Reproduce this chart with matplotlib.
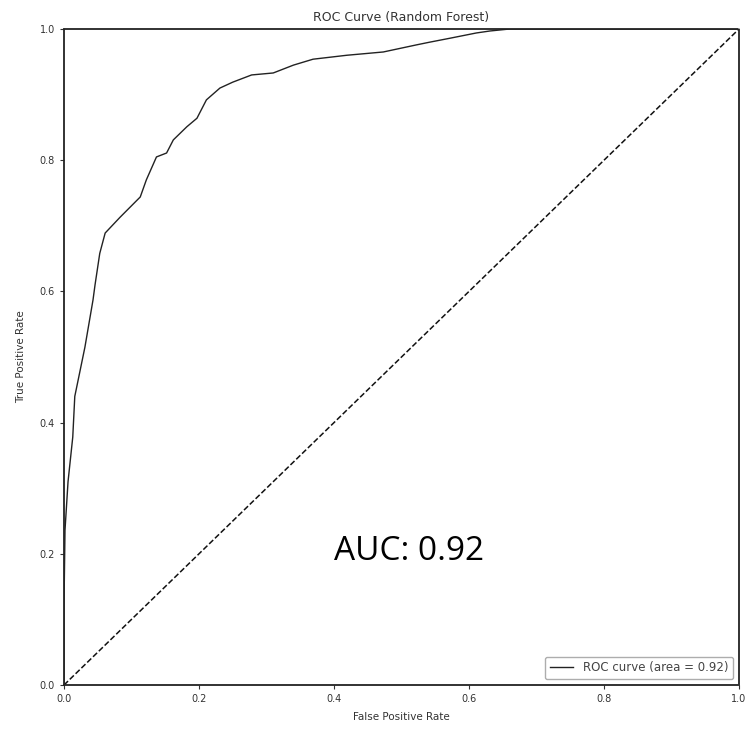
import matplotlib
matplotlib.use("Agg")
import matplotlib.pyplot as plt

# ROC curve points (false positive rate, true positive rate)
fpr = [0.0, 0.0, 0.0015, 0.006, 0.013, 0.016, 0.031, 0.043, 0.046, 0.053, 0.061,
       0.083, 0.113, 0.122, 0.137, 0.152, 0.162, 0.182, 0.197, 0.211, 0.231,
       0.250, 0.278, 0.310, 0.340, 0.369, 0.419, 0.473, 0.523, 0.542, 0.572,
       0.611, 0.631, 0.66, 1.0]
tpr = [0.0, 0.12, 0.236, 0.31, 0.378, 0.44, 0.515, 0.587, 0.61, 0.658, 0.689,
       0.713, 0.744, 0.770, 0.805, 0.811, 0.831, 0.851, 0.864, 0.892, 0.910,
       0.919, 0.930, 0.933, 0.945, 0.954, 0.960, 0.965, 0.976, 0.980, 0.986,
       0.994, 0.997, 1.0, 1.0]
chance = [0.0, 1.0]
auc_value = 0.92
ticks = [0.0, 0.2, 0.4, 0.6, 0.8, 1.0]

fig = plt.figure(figsize=(7.51, 7.31), dpi=100)
ax = fig.add_axes([0.0852, 0.0629, 0.984 - 0.0852, 0.9603 - 0.0629])

ax.plot(fpr, tpr, color="#222222", lw=1.0,
        label=f"ROC curve (area = {auc_value:.2f})")
ax.plot(chance, chance, color="#111111", lw=1.1, linestyle="--")

ax.set_xlim(0.0, 1.0)
ax.set_ylim(0.0, 1.0)
ax.set_xticks(ticks)
ax.set_yticks(ticks)
ax.set_xticklabels([f"{t:.1f}" for t in ticks])
ax.set_yticklabels([f"{t:.1f}" for t in ticks])
ax.tick_params(labelsize=7, length=3, colors="#333333")
for s in ax.spines.values():
    s.set_color("#222222")
    s.set_linewidth(1.3)
    s.set_linestyle((0, (1, 1)))

ax.set_xlabel("False Positive Rate", fontsize=7.5, color="#333333", labelpad=6)
ax.set_ylabel("True Positive Rate", fontsize=7.5, color="#333333", labelpad=10)
ax.set_title("ROC Curve (Random Forest)", fontsize=9, color="#333333", pad=6)

leg = ax.legend(loc="lower right", fontsize=8.5, frameon=True, fancybox=True)
leg.get_frame().set_edgecolor("#999999")
for t in leg.get_texts():
    t.set_color("#444444")

ax.text(0.511, 0.203, f"AUC: {auc_value:.2f}", fontsize=24, family="Open Sans",
        ha="center", va="center", color="black", transform=ax.transData)

fig.savefig("out.png", dpi=100)
